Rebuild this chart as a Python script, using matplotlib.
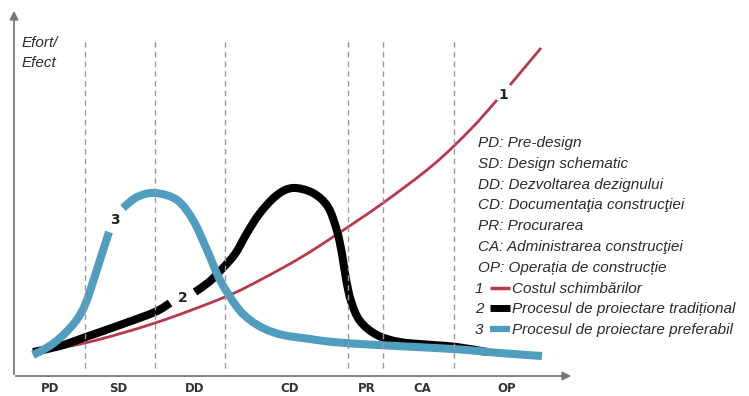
import numpy as np
import matplotlib
matplotlib.use('Agg')
import matplotlib.pyplot as plt
from matplotlib.path import Path
from matplotlib.patches import PathPatch

# phases along the project timeline (x in arbitrary time units)
phases = ['PD', 'SD', 'DD', 'CD', 'PR', 'CA', 'OP']
phase_label_x = [36, 104, 181, 276, 353, 408, 493]
phase_bounds = [71, 141, 211, 334, 369, 440]

# 1 - cost of changes
cost_x = [19, 71, 141, 211, 248, 286, 319, 369, 419, 456, 483, 496, 527]
cost_y = [24, 33, 53, 79, 97, 118, 139, 173, 211, 246, 276, 291, 328]

# 2 - traditional design process
trad_x = [19, 46, 69, 106, 141, 156, 181, 195, 207, 221, 233, 246, 263, 279, 299,
          314, 323, 328, 332, 337, 346, 363, 386, 419, 443, 473]
trad_y = [24, 30, 38, 51, 64, 73, 84, 94, 106, 122, 143, 163, 181, 188, 183,
          169, 145, 122, 97, 75, 55, 41, 34, 31, 29, 24]

# 3 - preferred design process
pref_x = [19, 34, 46, 56, 64, 71, 78, 86, 95, 109, 123, 141, 163, 179, 193, 206,
          223, 236, 251, 269, 296, 319, 363, 439, 486, 528]
pref_y = [21, 29, 38, 48, 58, 71, 91, 116, 144, 168, 179, 183, 176, 156, 126, 96,
          69, 56, 47, 41, 37, 34, 31, 27, 23, 20]

legend_lines = ['PD: Pre-design', 'SD: Design schematic', 'DD: Dezvoltarea dezignului',
                'CD: Documentaţia construcţiei', 'PR: Procurarea',
                'CA: Administrarea construcţiei', 'OP: Operația de construcție']
series_names = ['Costul schimbărilor', 'Procesul de proiectare tradițional',
                'Procesul de proiectare preferabil']

RED = '#b8394c'
BLUE = '#4f9ec0'
GREY = '#999999'
TXT = '#2a2a2a'
IT = 'Liberation Sans'
BOLD = 'DejaVu Sans'


def smooth(x, y):
    # catmull-rom through the points, as cubic bezier segments
    p = np.column_stack([x, y]).astype(float)
    verts = [p[0]]
    codes = [Path.MOVETO]
    for i in range(len(p) - 1):
        p0 = p[i - 1] if i > 0 else p[i]
        p3 = p[i + 2] if i + 2 < len(p) else p[i + 1]
        c1 = p[i] + (p[i + 1] - p0) / 6
        c2 = p[i + 1] - (p3 - p[i]) / 6
        verts += [c1, c2, p[i + 1]]
        codes += [Path.CURVE4] * 3
    return Path(verts, codes)


def draw(ax, x, y, gap, color, lw):
    # curve with a break where its number label sits
    x = np.array(x)
    y = np.array(y)
    for m in (x <= gap[0], x >= gap[1]):
        ax.add_patch(PathPatch(smooth(x[m], y[m]), fill=False, edgecolor=color,
                               lw=lw, capstyle='butt', joinstyle='round'))


fig = plt.figure(figsize=(7.49, 3.96), dpi=100)
ax = fig.add_axes([0, 0, 1, 1])
ax.set_xlim(-14, 735)
ax.set_ylim(-20, 376)
ax.axis('off')

# axes with arrows
ax.annotate('', xy=(0, 368), xytext=(0, -1),
            arrowprops=dict(arrowstyle='-|>,head_length=0.5,head_width=0.25', color='#777777', lw=1.3))
ax.annotate('', xy=(560, 0), xytext=(-1, 0),
            arrowprops=dict(arrowstyle='-|>,head_length=0.5,head_width=0.25', color='#777777', lw=1.3))

# phase boundaries
ax.vlines(phase_bounds, 8, 336, colors=GREY, linestyles=(0, (4, 3)), lw=1)
for name, px in zip(phases, phase_label_x):
    ax.text(px, -12, name, ha='center', va='center', fontsize=8.5,
            fontweight='bold', color='#333333', family=BOLD)

ax.text(8, 333, 'Efort/', fontsize=11, style='italic', color=TXT, family=IT, va='center')
ax.text(8, 313, 'Efect', fontsize=11, style='italic', color=TXT, family=IT, va='center')

# curves
draw(ax, cost_x, cost_y, (483, 496), RED, 2)
draw(ax, trad_x, trad_y, (156, 181), 'black', 5.8)
draw(ax, pref_x, pref_y, (95, 109), BLUE, 5.8)

for lab, lx, lyy in [('1', 489, 281), ('2', 169, 78), ('3', 101, 156)]:
    ax.text(lx, lyy, lab, ha='center', va='center', fontsize=10,
            fontweight='bold', color='#222222', family=BOLD)

# legend text
ly = 233
step = 20.8
for i, s in enumerate(legend_lines):
    ax.text(464, ly - i * step, s, fontsize=11, style='italic', color=TXT,
            family=IT, va='center')

sw_colors = [RED, 'black', BLUE]
sw_widths = [2.5, 5, 4.5]
for j, (nm, c, w) in enumerate(zip(series_names, sw_colors, sw_widths)):
    yy = ly - (len(legend_lines) + j) * step
    ax.text(461, yy, str(j + 1), fontsize=11, style='italic', color=TXT,
            family=IT, va='center')
    ax.plot([476, 496], [yy + 1, yy + 1], color=c, lw=w, solid_capstyle='butt')
    ax.text(498, yy, nm, fontsize=11, style='italic', color=TXT,
            family=IT, va='center')

plt.savefig('out.png', dpi=100)
